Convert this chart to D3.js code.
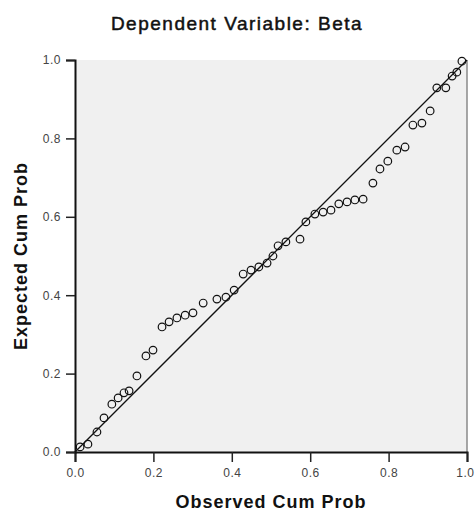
<!DOCTYPE html>
<html>
<head>
<meta charset="utf-8">
<script src="https://cdn.jsdelivr.net/npm/d3@7/dist/d3.min.js"></script>
<style>
  html, body { margin: 0; padding: 0; background: #fff; }
  svg { display: block; }
</style>
</head>
<body>
<svg id="chart" width="475" height="513"></svg>
<script>
// Data: Normal P-P plot of regression standardized residual
const observedCumProb = [0.013,0.033,0.056,0.074,0.094,0.110,0.125,0.138,0.158,0.181,
  0.199,0.222,0.240,0.260,0.281,0.301,0.327,0.362,0.385,0.406,
  0.429,0.449,0.469,0.490,0.505,0.518,0.538,0.574,0.589,0.612,
  0.633,0.653,0.673,0.694,0.714,0.735,0.760,0.778,0.798,0.821,
  0.842,0.862,0.885,0.906,0.923,0.946,0.962,0.974,0.987];
const expectedCumProb = [0.013,0.020,0.051,0.087,0.122,0.138,0.151,0.156,0.194,0.245,
  0.260,0.319,0.332,0.342,0.349,0.355,0.380,0.390,0.395,0.413,
  0.454,0.464,0.472,0.482,0.500,0.526,0.536,0.543,0.587,0.607,
  0.612,0.617,0.633,0.638,0.643,0.645,0.686,0.722,0.742,0.770,
  0.778,0.834,0.839,0.870,0.929,0.929,0.959,0.969,0.997];
const tickValues = [0.0, 0.2, 0.4, 0.6, 0.8, 1.0];
const titleText = "Dependent Variable: Beta";
const xTitle = "Observed Cum Prob";
const yTitle = "Expected Cum Prob";

const svg = d3.select("#chart");
const W = 475, H = 513;
const m = { left: 75, right: 8, top: 60, bottom: 61 };
const x = d3.scaleLinear().domain([0, 1]).range([m.left, W - m.right]);
const y = d3.scaleLinear().domain([0, 1]).range([H - m.bottom, m.top]);

svg.append("rect").attr("width", W).attr("height", H).attr("fill", "#fff");

// plot background
svg.append("rect")
  .attr("x", x(0)).attr("y", y(1))
  .attr("width", x(1) - x(0)).attr("height", y(0) - y(1))
  .attr("fill", "#f0f0f0");

// right border
svg.append("line")
  .attr("x1", x(1)).attr("x2", x(1)).attr("y1", y(1)).attr("y2", y(0))
  .attr("stroke", "#8a8a8a").attr("stroke-width", 1.5);

// diagonal reference line
svg.append("line")
  .attr("x1", x(0)).attr("y1", y(0)).attr("x2", x(1)).attr("y2", y(1))
  .attr("stroke", "#111").attr("stroke-width", 1.3);

// points
const pts = observedCumProb.map((v, i) => ({ o: v, e: expectedCumProb[i] }));
svg.append("g").selectAll("circle").data(pts).enter().append("circle")
  .attr("cx", d => x(d.o)).attr("cy", d => y(d.e)).attr("r", 3.8)
  .attr("fill", "none").attr("stroke", "#111").attr("stroke-width", 1.2);

// axes
const fmt = d3.format(".1f");
const xAxis = svg.append("g").attr("transform", `translate(0,${y(0)})`)
  .call(d3.axisBottom(x).tickValues(tickValues).tickFormat(fmt).tickSize(10).tickPadding(6));
const yAxis = svg.append("g").attr("transform", `translate(${x(0)},0)`)
  .call(d3.axisLeft(y).tickValues(tickValues).tickFormat(fmt).tickSize(9).tickPadding(5));

[xAxis, yAxis].forEach(g => {
  g.select(".domain").attr("stroke", "#111").attr("stroke-width", 2);
  g.selectAll(".tick line").attr("stroke", "#222").attr("stroke-width", 1.5);
  g.selectAll(".tick text")
    .attr("fill", "#444")
    .style("font-family", "'Liberation Sans', Arial, sans-serif")
    .style("font-size", "12px")
    .style("letter-spacing", "0.5px");
});
// keep the last x label inside the frame
xAxis.selectAll(".tick text").filter(d => d === 1).attr("text-anchor", "end").attr("dx", "7");

// title
svg.append("text")
  .attr("x", 237).attr("y", 30)
  .attr("text-anchor", "middle")
  .style("font-family", "'Liberation Sans', Arial, sans-serif")
  .style("font-size", "19px")
  .style("letter-spacing", "1.5px")
  .attr("fill", "#111")
  .attr("stroke", "#111").attr("stroke-width", 0.5)
  .text(titleText);

// x title
svg.append("text")
  .attr("x", (x(0) + x(1)) / 2).attr("y", 508)
  .attr("text-anchor", "middle")
  .style("font-family", "'Liberation Sans', Arial, sans-serif")
  .style("font-size", "18px").style("font-weight", "bold")
  .style("letter-spacing", "1px")
  .attr("fill", "#111")
  .text(xTitle);

// y title
svg.append("text")
  .attr("transform", `translate(27,${(y(0) + y(1)) / 2}) rotate(-90)`)
  .attr("text-anchor", "middle")
  .style("font-family", "'Liberation Sans', Arial, sans-serif")
  .style("font-size", "18px").style("font-weight", "bold")
  .style("letter-spacing", "1px")
  .attr("fill", "#111")
  .text(yTitle);
</script>
</body>
</html>
